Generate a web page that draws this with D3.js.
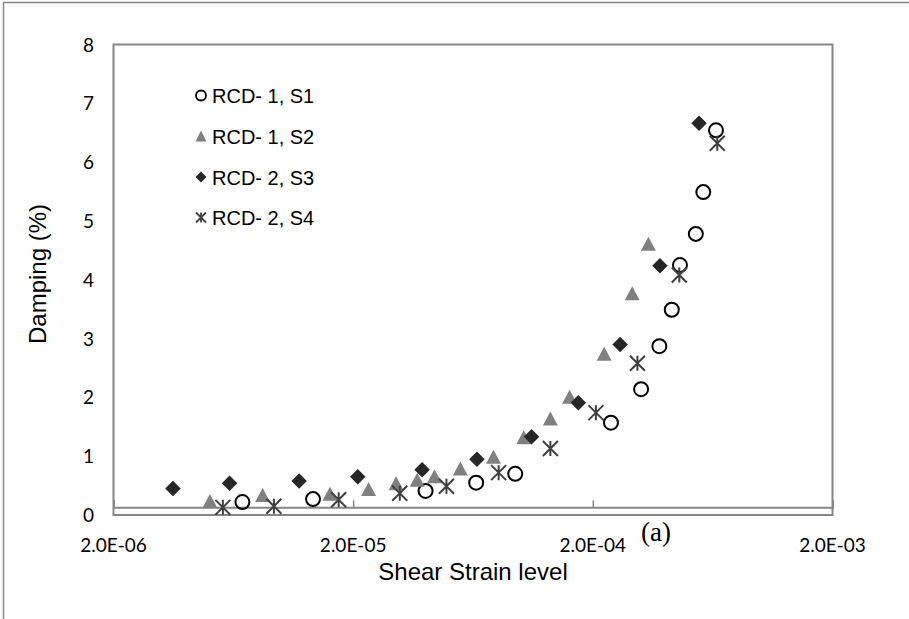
<!DOCTYPE html>
<html><head><meta charset="utf-8">
<script src="https://cdn.jsdelivr.net/npm/d3@7"></script>
<style>body{margin:0;background:#fff}</style>
</head><body>
<svg id="chart" width="909" height="619"></svg>
<script>
// ---- data ----
const seriesNames = ["RCD- 1, S1", "RCD- 1, S2", "RCD- 2, S3", "RCD- 2, S4"];
const s1x = [6.9e-6, 1.36e-5, 4.01e-5, 6.52e-5, 9.49e-5, 2.38e-4, 3.18e-4, 3.79e-4, 4.27e-4, 4.62e-4, 5.38e-4, 5.78e-4, 6.53e-4];
const s1y = [0.22, 0.27, 0.41, 0.55, 0.70, 1.57, 2.14, 2.87, 3.49, 4.25, 4.78, 5.49, 6.54];
const s2x = [5.05e-6, 8.38e-6, 1.60e-5, 2.32e-5, 3.02e-5, 3.70e-5, 4.37e-5, 5.6e-5, 7.7e-5, 1.03e-4, 1.33e-4, 1.60e-4, 2.23e-4, 2.92e-4, 3.41e-4];
const s2y = [0.24, 0.34, 0.36, 0.44, 0.54, 0.60, 0.66, 0.79, 0.99, 1.32, 1.64, 2.01, 2.74, 3.77, 4.61];
const s3x = [3.54e-6, 6.1e-6, 1.19e-5, 2.09e-5, 3.88e-5, 6.57e-5, 1.11e-4, 1.74e-4, 2.60e-4, 3.81e-4, 5.55e-4];
const s3y = [0.45, 0.54, 0.58, 0.65, 0.77, 0.95, 1.33, 1.91, 2.90, 4.24, 6.66];
const s4x = [5.72e-6, 9.34e-6, 1.74e-5, 3.13e-5, 4.9e-5, 8.09e-5, 1.33e-4, 2.06e-4, 3.07e-4, 4.59e-4, 6.61e-4];
const s4y = [0.13, 0.15, 0.26, 0.37, 0.49, 0.72, 1.13, 1.74, 2.58, 4.08, 6.32];
const xTicks = [2e-6, 2e-5, 2e-4, 2e-3];
const xTickLabels = ["2.0E-06", "2.0E-05", "2.0E-04", "2.0E-03"];
const yTicks = [0, 1, 2, 3, 4, 5, 6, 7, 8];
const xCross = 0.13;

// ---- layout ----
const svg = d3.select("#chart");
const L = 113.5, R = 832.5, T = 44.5, B = 515;
const x = d3.scaleLog().domain([2e-6, 2e-3]).range([L, R]);
const y = d3.scaleLinear().domain([0, 8]).range([B, T]);
const gray = "#868686";

// outer chart border
svg.append("rect").attr("x", 3.5).attr("y", 2.5).attr("width", 920).attr("height", 640)
  .attr("fill", "none").attr("stroke", gray).attr("stroke-width", 1.5);
// plot area border
svg.append("rect").attr("x", L).attr("y", T).attr("width", R - L).attr("height", B - T)
  .attr("fill", "none").attr("stroke", gray).attr("stroke-width", 2);

// x axis (crossing at xCross) with inside ticks
const xAxis = d3.axisTop(x).tickValues(xTicks).tickSize(7).tickFormat("");
const gx = svg.append("g").attr("transform", `translate(0,${y(xCross)})`).call(xAxis);
gx.select(".domain").attr("stroke", gray).attr("stroke-width", 2);
gx.selectAll(".tick line").attr("stroke", gray).attr("stroke-width", 1.5);

// x tick labels
svg.append("g").selectAll("text").data(xTicks).join("text")
  .attr("x", d => x(d)).attr("y", 552)
  .attr("text-anchor", "middle")
  .attr("font-family", "Lato, 'Open Sans', sans-serif").attr("font-size", 19).attr("fill", "#000")
  .text((d, i) => xTickLabels[i]);

// y tick labels
svg.append("g").selectAll("text").data(yTicks).join("text")
  .attr("x", 94).attr("y", d => y(d) + 7)
  .attr("text-anchor", "end")
  .attr("font-family", "Lato, 'Open Sans', sans-serif").attr("font-size", 19).attr("fill", "#000")
  .text(d => d);

// axis titles
svg.append("text").attr("x", (L + R) / 2).attr("y", 580).attr("text-anchor", "middle")
  .attr("font-family", "'Liberation Sans', Arial, sans-serif").attr("font-size", 24)
  .text("Shear Strain level");
svg.append("text").attr("transform", `translate(46,274) rotate(-90)`).attr("text-anchor", "middle")
  .attr("font-family", "'Liberation Sans', Arial, sans-serif").attr("font-size", 24)
  .text("Damping (%)");

// "(a)" label
svg.append("text").attr("x", 656).attr("y", 541).attr("text-anchor", "middle")
  .attr("font-family", "'Liberation Serif', 'Times New Roman', serif").attr("font-size", 27)
  .text("(a)");

// ---- marker drawers ----
function circle(g, cx, cy, r, sw) {
  g.append("circle").attr("cx", cx).attr("cy", cy).attr("r", r)
    .attr("fill", "none").attr("stroke", "#000").attr("stroke-width", sw);
}
function tri(g, cx, cy, w, h) {
  g.append("path").attr("d", `M${cx},${cy - h / 2}L${cx + w / 2},${cy + h / 2}L${cx - w / 2},${cy + h / 2}Z`)
    .attr("fill", "#808080");
}
function diamond(g, cx, cy, s) {
  g.append("path").attr("d", `M${cx},${cy - s / 2}L${cx + s / 2},${cy}L${cx},${cy + s / 2}L${cx - s / 2},${cy}Z`)
    .attr("fill", "#262626");
}
function star(g, cx, cy, s, sw) {
  const h = s / 2;
  g.append("path").attr("d", `M${cx - h},${cy - h}L${cx + h},${cy + h}M${cx + h},${cy - h}L${cx - h},${cy + h}M${cx},${cy - h}L${cx},${cy + h}`)
    .attr("fill", "none").attr("stroke", "#404040").attr("stroke-width", sw);
}

const pts = svg.append("g");
s1x.forEach((v, i) => circle(pts, x(v), y(s1y[i]), 7, 2));
s2x.forEach((v, i) => tri(pts, x(v), y(s2y[i]), 15, 14));
s3x.forEach((v, i) => diamond(pts, x(v), y(s3y[i]), 15.5));
s4x.forEach((v, i) => star(pts, x(v), y(s4y[i]), 15, 2));

// ---- legend ----
const lg = svg.append("g");
const rowY = [95.5, 136, 177, 217.5];
const mx = 201, tx = 212;
circle(lg, mx, rowY[0], 5, 1.8);
tri(lg, mx, rowY[1], 11, 11);
diamond(lg, mx, rowY[2], 11);
star(lg, mx, rowY[3], 10, 1.8);
lg.selectAll("text").data(seriesNames).join("text")
  .attr("x", tx).attr("y", (d, i) => rowY[i] + 7.5)
  .attr("font-family", "'Liberation Sans', Arial, sans-serif").attr("font-size", 20)
  .attr("fill", "#000").text(d => d);
</script>
</body></html>
